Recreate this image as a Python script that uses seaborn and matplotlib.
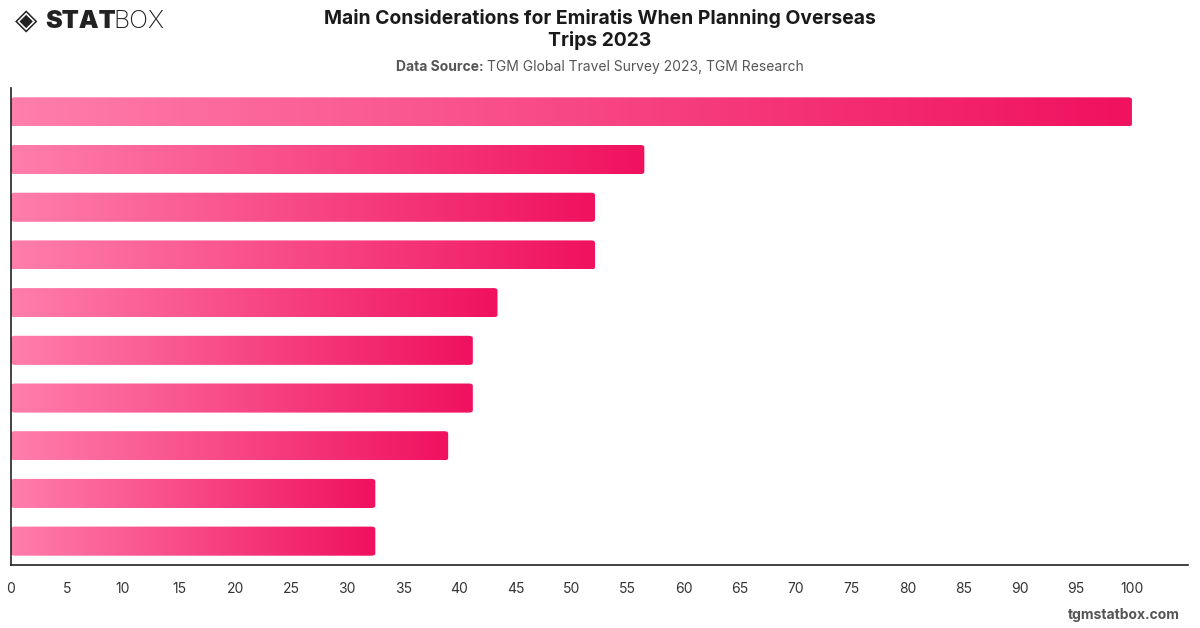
import numpy as np
import pandas as pd
import seaborn as sns
import matplotlib.pyplot as plt
from matplotlib.patches import FancyBboxPatch
from matplotlib.colors import LinearSegmentedColormap

# values (labels not shown on the chart)
ranks = ["1", "2", "3", "4", "5", "6", "7", "8", "9", "10"]
shares = [100, 56.5, 52.1, 52.1, 43.4, 41.2, 41.2, 39.0, 32.5, 32.5]
xticks = list(range(0, 101, 5))

sns.set_theme(style="white")
plt.rcParams['font.family'] = ['Inter', 'DejaVu Sans']

df = pd.DataFrame({"rank": ranks, "share": shares})

fig = plt.figure(figsize=(12, 6.28), dpi=100)
ax = fig.add_axes([11 / 1200, 1 - 565 / 628, (1188 - 11) / 1200, (565 - 88) / 628])
sns.barplot(data=df, x="share", y="rank", orient="h", width=0.61, ax=ax)

cmap = LinearSegmentedColormap.from_list("pink", ["#ff7eab", "#f0115f"])
grad = np.linspace(0, 1, 256).reshape(1, -1)
for p in ax.patches:
    x0, y0, w, h = p.get_x(), p.get_y(), p.get_width(), p.get_height()
    p.set_visible(False)
    clip = FancyBboxPatch((x0, y0), w, h, boxstyle="round,pad=0,rounding_size=0.35",
                          mutation_aspect=h / 0.35 * 0.08, transform=ax.transData,
                          facecolor="none", edgecolor="none")
    ax.add_patch(clip)
    im = ax.imshow(grad, cmap=cmap, aspect="auto", extent=(x0, x0 + w, y0 + h, y0),
                   zorder=2, interpolation="bicubic")
    im.set_clip_path(clip)
ax.set_xlim(0, 105)
ax.set_ylim(9.5, -0.5)

ax.set_xticks(xticks)
ax.set_xticklabels([str(t) for t in xticks], fontsize=10, color="#333333")
ax.set_yticks([])
ax.set_xlabel("")
ax.set_ylabel("")
ax.tick_params(axis="x", length=0, pad=12)
for s in ["top", "right"]:
    ax.spines[s].set_visible(False)
for s in ["left", "bottom"]:
    ax.spines[s].set_color("#222222")
    ax.spines[s].set_linewidth(1.2)

fig.text(0.5, 1 - 18 / 628, "Main Considerations for Emiratis When Planning Overseas",
         ha="center", va="center", fontsize=13.9, fontweight="bold", color="#1a1a1a")
fig.text(0.5, 1 - 41 / 628, "Trips 2023",
         ha="center", va="center", fontsize=13.9, fontweight="bold", color="#1a1a1a")

r = fig.canvas.get_renderer()

# subtitle: bold lead + regular rest, centred together
t1 = fig.text(0, 1 - 67 / 628, "Data Source: ", ha="left", va="center", fontsize=10,
              fontweight="bold", color="#555555")
t2 = fig.text(0, 1 - 67 / 628, "TGM Global Travel Survey 2023, TGM Research",
              ha="left", va="center", fontsize=10, color="#555555")
w1 = t1.get_window_extent(r).width
w2 = t2.get_window_extent(r).width
start = (1200 - (w1 + w2)) / 2
t1.set_x(start / 1200)
t2.set_x((start + w1) / 1200)

# logo
fig.text(15 / 1200, 1 - 21 / 628, "\u25c8", ha="left", va="center", fontsize=21,
         color="#222222", family=["DejaVu Sans"])
s1 = fig.text(45 / 1200, 1 - 21 / 628, "STAT", ha="left", va="center", fontsize=18,
              fontweight="black", color="#222222")
s_end = s1.get_window_extent(r).x1
fig.text((s_end - 2) / 1200, 1 - 21 / 628, "BOX", ha="left", va="center", fontsize=18,
         fontweight="light", color="#222222")

fig.text(1180 / 1200, 1 - 615 / 628, "tgmstatbox.com", ha="right", va="center",
         fontsize=10, fontweight="bold", color="#555555")

fig.savefig("out.png", dpi=100)
